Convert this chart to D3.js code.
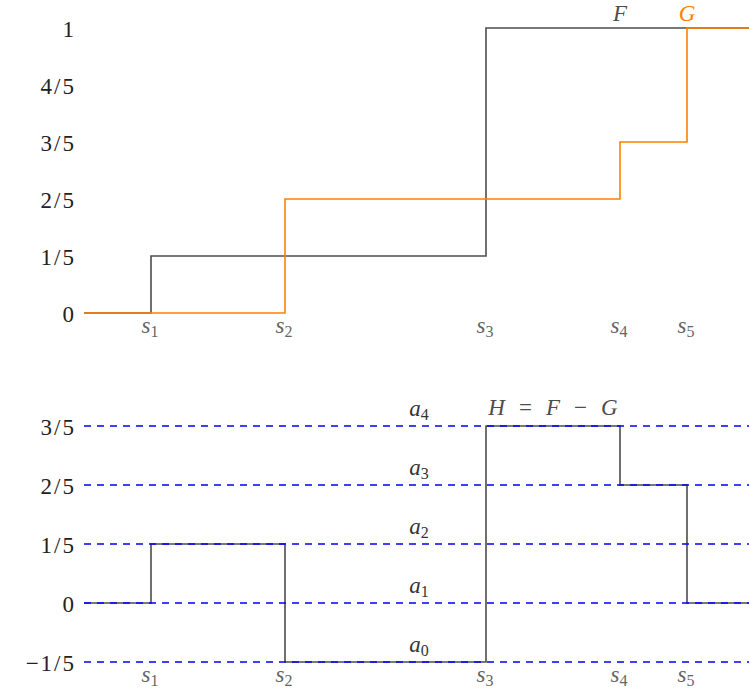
<!DOCTYPE html>
<html>
<head>
<meta charset="utf-8">
<style>
body { margin: 0; background: #fff; }
svg text { font-family: "Liberation Serif", "Times New Roman", "DejaVu Serif", serif; }
</style>
</head>
<body>
<div id="chart"></div>
<script src="https://d3js.org/d3.v7.min.js"></script>
<script>
// step positions and their names
var sPos = [1, 3, 6, 8, 9];
var sNames = ["1", "2", "3", "4", "5"];
var xEnd = 10;

// value of each function on [0,s1), [s1,s2), ... [s5,end]
var fVals = [0, 0.2, 0.2, 1, 1, 1];
var gVals = [0, 0, 0.4, 0.4, 0.6, 1];
var hVals = [0, 0.2, -0.2, 0.6, 0.4, 0];

var topTicks = [0, 0.2, 0.4, 0.6, 0.8, 1];
var topLabels = ["0", "1/5", "2/5", "3/5", "4/5", "1"];
var botTicks = [-0.2, 0, 0.2, 0.4, 0.6];
var botLabels = ["\u22121/5", "0", "1/5", "2/5", "3/5"];
var levelNames = ["0", "1", "2", "3", "4"];

var grey = "#4d4d4d", orange = "#ff8000";
var serif = "'Liberation Serif', 'Times New Roman', 'DejaVu Serif', serif";

var svg = d3.select("#chart").append("svg")
    .attr("width", 749)
    .attr("height", 691)
    .attr("font-family", serif);

var x = d3.scaleLinear().domain([0, xEnd]).range([84, 754]);
var yTop = d3.scaleLinear().domain([0, 1]).range([313, 28]);
var yBot = d3.scaleLinear().domain([-0.2, 0.6]).range([662, 426]);

var xs = [0].concat(sPos, [xEnd]);

function stepData(vals) {
  return xs.map(function (d, i) { return [d, vals[Math.min(i, vals.length - 1)]]; });
}

function yAxis(scale, ticks, labels) {
  var g = svg.append("g")
      .attr("transform", "translate(76,0)")
      .call(d3.axisLeft(scale).tickValues(ticks).tickSize(0).tickPadding(0)
        .tickFormat(function (d, i) { return labels[i]; }));
  g.attr("font-family", serif).attr("font-size", null);
  g.select(".domain").remove();
  g.selectAll("text")
      .attr("fill", "#222")
      .attr("dy", "0.35em")
      .style("letter-spacing", "2px")
      .style("font-size", "23px");
}

function sLabels(yBase) {
  var t = svg.append("g").selectAll("text").data(sPos).enter().append("text")
      .attr("x", function (d) { return x(d) - 1; })
      .attr("y", yBase)
      .attr("text-anchor", "middle")
      .attr("fill", "#666")
      .style("font-size", "23px");
  t.append("tspan").style("font-style", "italic").text("s");
  t.append("tspan").attr("dy", 4).style("font-size", "16px")
      .text(function (d, i) { return sNames[i]; });
}

// ---- top chart: F and G ----
yAxis(yTop, topTicks, topLabels);

var lineTop = d3.line().x(function (d) { return x(d[0]); })
    .y(function (d) { return yTop(d[1]); }).curve(d3.curveStepAfter);

svg.append("path").attr("d", lineTop(stepData(fVals)))
    .attr("fill", "none").attr("stroke", grey).attr("stroke-width", 1.6);
svg.append("path").attr("d", lineTop(stepData(gVals)))
    .attr("fill", "none").attr("stroke", orange).attr("stroke-width", 1.6);

svg.append("text").attr("x", x(8)).attr("y", 21).attr("text-anchor", "middle")
    .attr("fill", grey).style("font-size", "23px").style("font-style", "italic").text("F");
svg.append("text").attr("x", x(9)).attr("y", 21).attr("text-anchor", "middle")
    .attr("fill", orange).style("font-size", "23px").style("font-style", "italic").text("G");

sLabels(333);

// ---- bottom chart: H = F - G ----
yAxis(yBot, botTicks, botLabels);

var lineBot = d3.line().x(function (d) { return x(d[0]); })
    .y(function (d) { return yBot(d[1]); }).curve(d3.curveStepAfter);

svg.append("path").attr("d", lineBot(stepData(hVals)))
    .attr("fill", "none").attr("stroke", grey).attr("stroke-width", 1.6);

svg.append("g").selectAll("line").data(botTicks).enter().append("line")
    .attr("x1", x(0)).attr("x2", x(xEnd))
    .attr("y1", function (d) { return yBot(d); })
    .attr("y2", function (d) { return yBot(d); })
    .attr("stroke", "#0000ff").attr("stroke-width", 1.6)
    .attr("stroke-dasharray", "7,6");

var lv = svg.append("g").selectAll("text").data(botTicks).enter().append("text")
    .attr("x", 419)
    .attr("y", function (d) { return yBot(d) - 10; })
    .attr("text-anchor", "middle")
    .attr("fill", "#333")
    .style("font-size", "23px");
lv.append("tspan").style("font-style", "italic").text("a");
lv.append("tspan").attr("dy", 4).style("font-size", "16px")
    .text(function (d, i) { return levelNames[i]; });

var hParts = [["H", true], ["=", false], ["F", true], ["\u2212", false], ["G", true]];
var ht = svg.append("text").attr("x", 553).attr("y", 415).attr("text-anchor", "middle")
    .attr("fill", grey).style("font-size", "23px");
hParts.forEach(function (p, i) {
  ht.append("tspan").attr("dx", i ? 14 : 0)
      .style("font-style", p[1] ? "italic" : "normal").text(p[0]);
});

sLabels(682);
</script>
</body>
</html>
